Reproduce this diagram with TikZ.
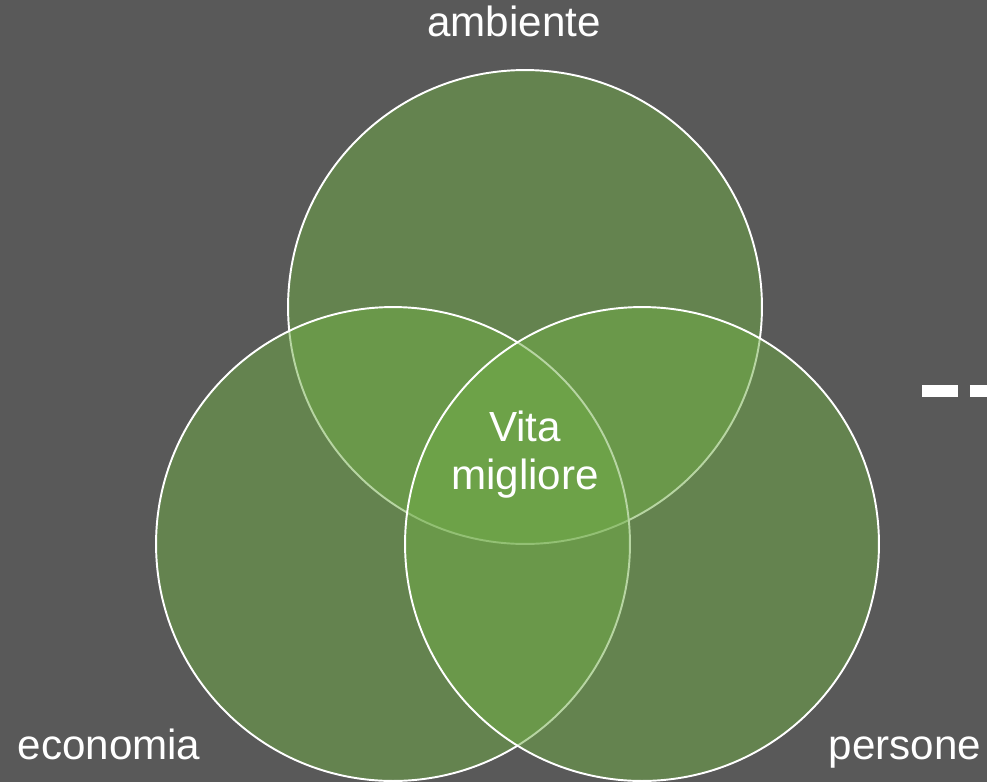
\documentclass[tikz,border=0pt]{standalone}
\usepackage{fontspec}
\setmainfont{Liberation Sans}
\usepackage{tikz}

\definecolor{slate}{HTML}{595959}
\definecolor{leaf}{HTML}{70AD47}

\begin{document}
\begin{tikzpicture}[x=.02cm, y=-.02cm,
    ring/.style={circle, draw=white, line width=1.1pt, fill=leaf, fill opacity=.5,
      draw opacity=1, minimum size=9.48cm, inner sep=0pt},
    word/.style={text=white, font=\fontsize{24}{27.3}\selectfont, inner sep=0pt}]
      \fill[slate] (0, 0) rectangle (987, 782);
      \useasboundingbox (0, 0) rectangle (987, 782);
      \node[ring] (ambiente) at (525, 307) {};
      \node[ring] (economia) at (393, 544) {};
      \node[ring] (persone) at (642, 544) {};
      \node[word, anchor=base] (ambienteLbl) at (514, 36) {ambiente};
      \node[word, anchor=base] (economiaLbl) at (109, 759) {economia};
      \node[word, anchor=base] (personeLbl) at (905, 759) {persone};
      \node[word, align=center] (vita) at (525, 455) {Vita\\migliore};
      \draw[white, line width=6.8pt, dash pattern=on 20.5pt off 6.8pt] (922, 391) -- (1010, 391);
    \end{tikzpicture}
\end{document}
